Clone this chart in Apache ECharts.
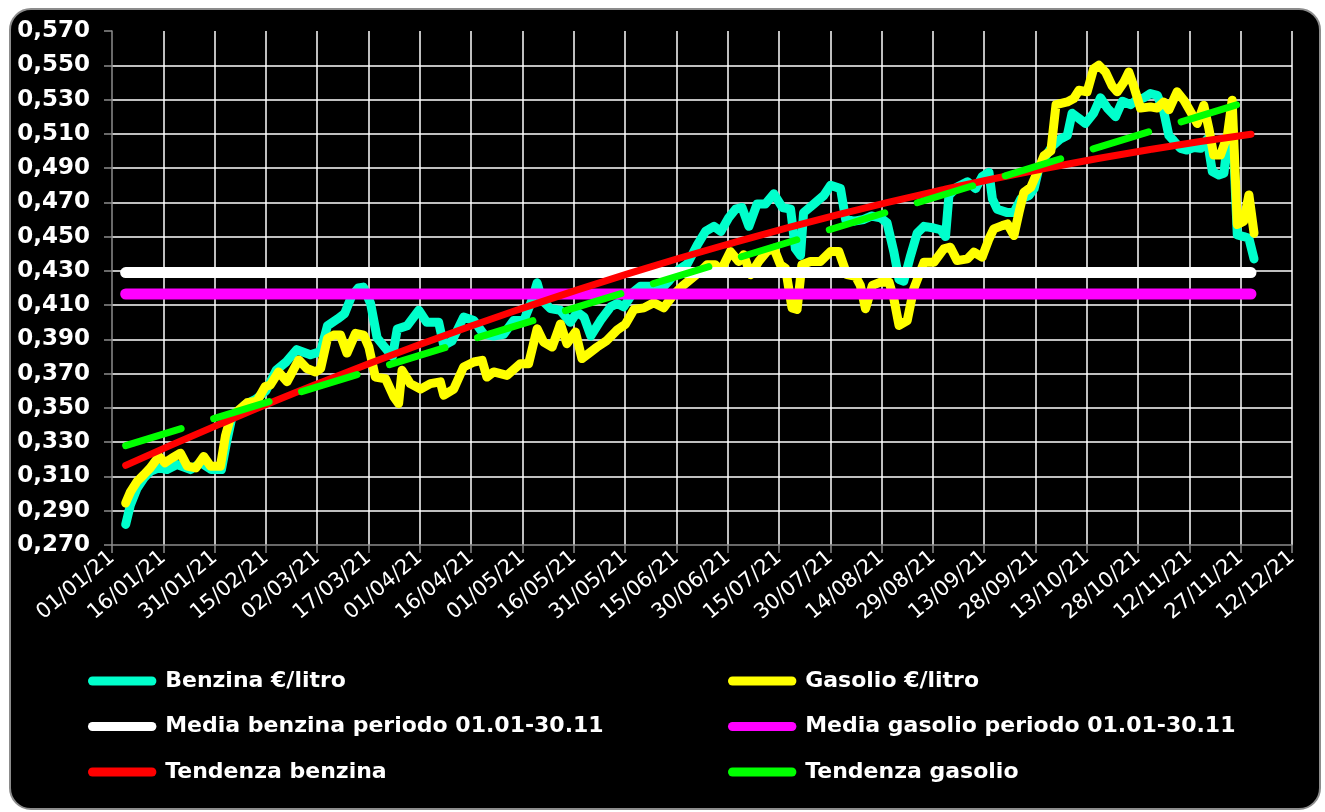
<!DOCTYPE html>
<html>
<head>
<meta charset="utf-8">
<script src="https://cdn.jsdelivr.net/npm/echarts@6/dist/echarts.min.js"></script>
<style>
  html, body { margin: 0; padding: 0; background: #fff; }
  #frame {
    position: absolute; left: 9px; top: 8px; width: 1312px; height: 802px;
    background: #000; border: 2px solid #8c8c8c; border-radius: 22px; box-sizing: border-box;
  }
  #chart { position: absolute; left: 0; top: 0; width: 1325px; height: 812px; }
</style>
</head>
<body>
<div id="frame"></div>
<div id="chart"></div>
<script>
// tick labels of the date axis, one every 15 days from 01/01/21
const xTickLabels = ['01/01/21', '16/01/21', '31/01/21', '15/02/21', '02/03/21', '17/03/21',
  '01/04/21', '16/04/21', '01/05/21', '16/05/21', '31/05/21', '15/06/21', '30/06/21',
  '15/07/21', '30/07/21', '14/08/21', '29/08/21', '13/09/21', '28/09/21', '13/10/21',
  '28/10/21', '12/11/21', '27/11/21', '12/12/21'];

// days counted from 01/01/21, values in €/litro
const benzinaDay = [4, 5.4, 7.3, 9.3, 11.2, 13.7, 16.1, 19, 23, 26,
  29, 32, 33.5, 35, 37, 39, 42, 45, 48, 51,
  54, 58, 61, 63, 66, 68, 70, 72, 73.5, 75.6,
  77.5, 79.5, 82, 83.4, 86.3, 89.7, 92, 95.5, 97, 99.4,
  102.8, 105.8, 108.7, 111.6, 114.5, 117.4, 120.4, 122.8, 124.3, 125.7,
  128.2, 131.1, 134, 136, 138, 140, 142.8, 145.8, 147.7, 149.6,
  152.6, 154.5, 157.4, 160.4, 162.8, 165.2, 168.2, 171.1, 173.5, 176,
  178, 180.3, 182.3, 184.2, 186.2, 188.6, 191, 193.5, 196, 198.4,
  199.8, 201.3, 202.2, 205.2, 208.1, 210.1, 213, 214.5, 217, 219.8,
  222, 224.7, 226.6, 228.6, 230.1, 231.5, 233.5, 235.4, 237.4, 240.3,
  242.3, 243.7, 244.7, 247.1, 250.1, 252.5, 254.4, 256.4, 257.4, 258.8,
  261.8, 263.7, 265.7, 268.1, 269.6, 271, 273, 275, 277.3, 279.3,
  280.7, 282.7, 284.6, 287, 289, 291, 293.4, 295.4, 297.8, 299.7,
  301.7, 303.6, 305.6, 307.5, 309, 310.4, 312.4, 314.3, 316.3, 318.3,
  320.2, 321.7, 323.6, 325.1, 326.1, 327.5, 329, 330.9, 332.4, 333.9];
const benzinaVal = [0.282, 0.2935, 0.303, 0.309, 0.313, 0.315, 0.314, 0.317, 0.314, 0.318,
  0.314, 0.314, 0.330, 0.344, 0.348, 0.352, 0.355, 0.360, 0.372, 0.377,
  0.384, 0.381, 0.383, 0.398, 0.402, 0.405, 0.415, 0.420, 0.4205, 0.411,
  0.391, 0.386, 0.380, 0.396, 0.398, 0.407, 0.400, 0.400, 0.3865, 0.389,
  0.403, 0.401, 0.393, 0.392, 0.393, 0.401, 0.401, 0.413, 0.423, 0.413,
  0.408, 0.407, 0.400, 0.406, 0.403, 0.392, 0.401, 0.409, 0.411, 0.409,
  0.418, 0.421, 0.421, 0.419, 0.424, 0.430, 0.434, 0.445, 0.453, 0.456,
  0.453, 0.461, 0.466, 0.467, 0.456, 0.469, 0.469, 0.475, 0.467, 0.466,
  0.443, 0.439, 0.464, 0.469, 0.474, 0.480, 0.478, 0.460, 0.459, 0.460,
  0.462, 0.461, 0.458, 0.441, 0.425, 0.424, 0.439, 0.452, 0.456, 0.455,
  0.454, 0.450, 0.474, 0.479, 0.482, 0.478, 0.485, 0.4875, 0.472, 0.466,
  0.464, 0.464, 0.472, 0.474, 0.478, 0.490, 0.497, 0.503, 0.507, 0.509,
  0.522, 0.519, 0.516, 0.522, 0.531, 0.525, 0.520, 0.529, 0.527, 0.530,
  0.531, 0.5335, 0.5325, 0.523, 0.509, 0.506, 0.5015, 0.5005, 0.502, 0.5015,
  0.507, 0.488, 0.486, 0.487, 0.505, 0.520, 0.451, 0.450, 0.449, 0.437];

const gasolioDay = [4, 5.4, 7.3, 9.3, 11.2, 13.7, 15.5, 17.5, 20, 22,
  24.5, 26.8, 28.8, 31.7, 33.2, 34.6, 36.6, 39.5, 42.4, 44.8,
  46.3, 48.7, 51.2, 54.6, 57, 59.5, 61, 63, 64.8, 66.8,
  68.7, 71.2, 73.6, 75.1, 77, 80, 82.4, 83.8, 84.8, 87.2,
  90.2, 93.1, 96, 97, 99.9, 102.8, 105.8, 108.2, 109.6, 111.6,
  115.5, 119.4, 121.8, 124.3, 126.2, 128.7, 131.1, 133, 135.5, 137.4,
  139.9, 141.8, 144.7, 147.7, 150.1, 152.6, 155.5, 158.4, 161.3, 164.2,
  166.7, 169.1, 172, 174, 176.4, 177.9, 180.8, 183.2, 184.7, 186.7,
  189.1, 191.5, 193.5, 195.4, 196.9, 198.8, 200.3, 201.7, 204.2, 207.1,
  210.1, 212.5, 214.9, 217.4, 218.8, 220.3, 222.3, 224.7, 227.2, 228.6,
  230.1, 232.5, 234.4, 237.4, 240.3, 243.2, 245.1, 247.1, 250.1, 252,
  254.4, 256.4, 257.8, 260.3, 261.8, 263.7, 265.2, 266.6, 268.6, 270.5,
  272.5, 274.5, 276, 279.3, 281.2, 282.7, 285.1, 287, 288.5, 290.5,
  292.4, 293.9, 295.8, 297.3, 298.7, 300.7, 303.6, 305.6, 307.5, 309,
  311.4, 313.4, 315.3, 317.3, 319.2, 320.7, 322.1, 324.1, 326.1, 327.5,
  329, 330.9, 332.4, 333.9];
const gasolioVal = [0.2945, 0.301, 0.307, 0.311, 0.315, 0.3217, 0.318, 0.3207, 0.3236, 0.316,
  0.315, 0.3217, 0.316, 0.316, 0.334, 0.344, 0.348, 0.353, 0.354, 0.3625,
  0.3634, 0.371, 0.3653, 0.378, 0.373, 0.371, 0.373, 0.3906, 0.3925, 0.3925,
  0.382, 0.3935, 0.3925, 0.3855, 0.368, 0.367, 0.3564, 0.3525, 0.372, 0.3642,
  0.361, 0.3642, 0.3652, 0.3574, 0.361, 0.3739, 0.3768, 0.3778, 0.368, 0.371,
  0.369, 0.3758, 0.3758, 0.3962, 0.3884, 0.3855, 0.399, 0.3875, 0.3943, 0.3788,
  0.3826, 0.3855, 0.3894, 0.3955, 0.3988, 0.4075, 0.4084, 0.4114, 0.4084, 0.4162,
  0.421, 0.4249, 0.4297, 0.4336, 0.4336, 0.4297, 0.4413, 0.4355, 0.4394, 0.4278,
  0.4355, 0.4413, 0.4432, 0.4336, 0.4316, 0.4084, 0.4075, 0.4336, 0.4355, 0.4355,
  0.4413, 0.4413, 0.4278, 0.4268, 0.4215, 0.4079, 0.4215, 0.4234, 0.4234, 0.4137,
  0.3981, 0.401, 0.4195, 0.435, 0.435, 0.4428, 0.4438, 0.436, 0.437, 0.4409,
  0.438, 0.4486, 0.4545, 0.4564, 0.4574, 0.4506, 0.4642, 0.4758, 0.4787, 0.4875,
  0.4972, 0.500, 0.527, 0.5286, 0.5306, 0.5354, 0.5345, 0.548, 0.550, 0.546,
  0.538, 0.5345, 0.540, 0.546, 0.538, 0.525, 0.5257, 0.525, 0.5286, 0.524,
  0.5345, 0.5296, 0.523, 0.516, 0.5267, 0.513, 0.4976, 0.4976, 0.509, 0.5296,
  0.457, 0.459, 0.4743, 0.452];

// averages over 01.01-30.11
const periodoDay = [4, 333];
const mediaBenzina = [0.429, 0.429];
const mediaGasolio = [0.4165, 0.4165];

// trend lines
const tendBenzinaDay = [4, 31, 59, 90, 120, 151, 181, 212, 243, 273, 304, 333];
const tendBenzinaVal = [0.3165, 0.3401, 0.3632, 0.3870, 0.4082, 0.4284, 0.4461, 0.4627, 0.4774, 0.4899, 0.5010, 0.5097];
const tendGasolioDay = [4, 333];
const tendGasolioVal = [0.328, 0.5295];

const FONT = 'DejaVu Sans';
const zip = (a, b) => a.map((d, i) => [d, b[i]]);
const capsule = 'path://M5,0 L71,0 A5,5 0 0 1 71,10 L5,10 A5,5 0 0 1 5,0 Z';

function line(name, days, vals, color, width, extra) {
  return Object.assign({
    name: name,
    type: 'line',
    data: zip(days, vals),
    showSymbol: false,
    symbol: 'none',
    color: color,
    lineStyle: { color: color, width: width, cap: 'round', join: 'round' }
  }, extra || {});
}

const legendBase = {
  orient: 'vertical',
  top: 665,
  itemGap: 23.5,
  itemWidth: 76,
  itemHeight: 9,
  icon: capsule,
  itemStyle: { borderWidth: 0 },
  textStyle: { color: '#fff', fontFamily: FONT, fontWeight: 'bold', fontSize: 22 }
};

const chart = echarts.init(document.getElementById('chart'));
chart.setOption({
  backgroundColor: 'transparent',
  animation: false,
  grid: { left: 112, top: 31, width: 1180, height: 514 },
  legend: [
    Object.assign({}, legendBase, {
      left: 83,
      data: ['Benzina €/litro', 'Media benzina periodo 01.01-30.11', 'Tendenza benzina']
    }),
    Object.assign({}, legendBase, {
      left: 723,
      data: ['Gasolio €/litro', 'Media gasolio periodo 01.01-30.11', 'Tendenza gasolio']
    })
  ],
  xAxis: {
    type: 'value',
    min: 0,
    max: 345,
    interval: 15,
    axisLine: { lineStyle: { color: '#8c8c8c', width: 1.5 } },
    axisTick: { length: 8, lineStyle: { color: '#8c8c8c', width: 1.5 } },
    axisLabel: {
      rotate: 40,
      margin: 10,
      color: '#fff',
      fontFamily: FONT,
      fontSize: 21,
      formatter: v => xTickLabels[Math.round(v / 15)] || ''
    },
    splitLine: { show: true, showMinLine: false, lineStyle: { color: '#fff', width: 1.5 } }
  },
  yAxis: {
    type: 'value',
    min: 0.27,
    max: 0.57,
    interval: 0.02,
    axisLine: { show: true, lineStyle: { color: '#8c8c8c', width: 1.5 } },
    axisTick: { show: true, length: 8, lineStyle: { color: '#8c8c8c', width: 1.5 } },
    axisLabel: {
      margin: 22,
      color: '#fff',
      fontFamily: FONT,
      fontWeight: 'bold',
      fontSize: 23,
      formatter: v => v.toFixed(3).replace('.', ',')
    },
    splitLine: { show: true, showMinLine: false, showMaxLine: false, lineStyle: { color: '#fff', width: 1.5 } }
  },
  series: [
    line('Benzina €/litro', benzinaDay, benzinaVal, '#00ffcc', 9),
    line('Gasolio €/litro', gasolioDay, gasolioVal, '#ffff00', 9),
    line('Media benzina periodo 01.01-30.11', periodoDay, mediaBenzina, '#ffffff', 11),
    line('Media gasolio periodo 01.01-30.11', periodoDay, mediaGasolio, '#ff00ff', 11),
    line('Tendenza benzina', tendBenzinaDay, tendBenzinaVal, '#ff0000', 7, { smooth: true }),
    line('Tendenza gasolio', tendGasolioDay, tendGasolioVal, '#00ff00', 7, {
      lineStyle: { color: '#00ff00', width: 7, cap: 'round', type: [58, 34] }
    })
  ]
});
</script>
</body>
</html>
